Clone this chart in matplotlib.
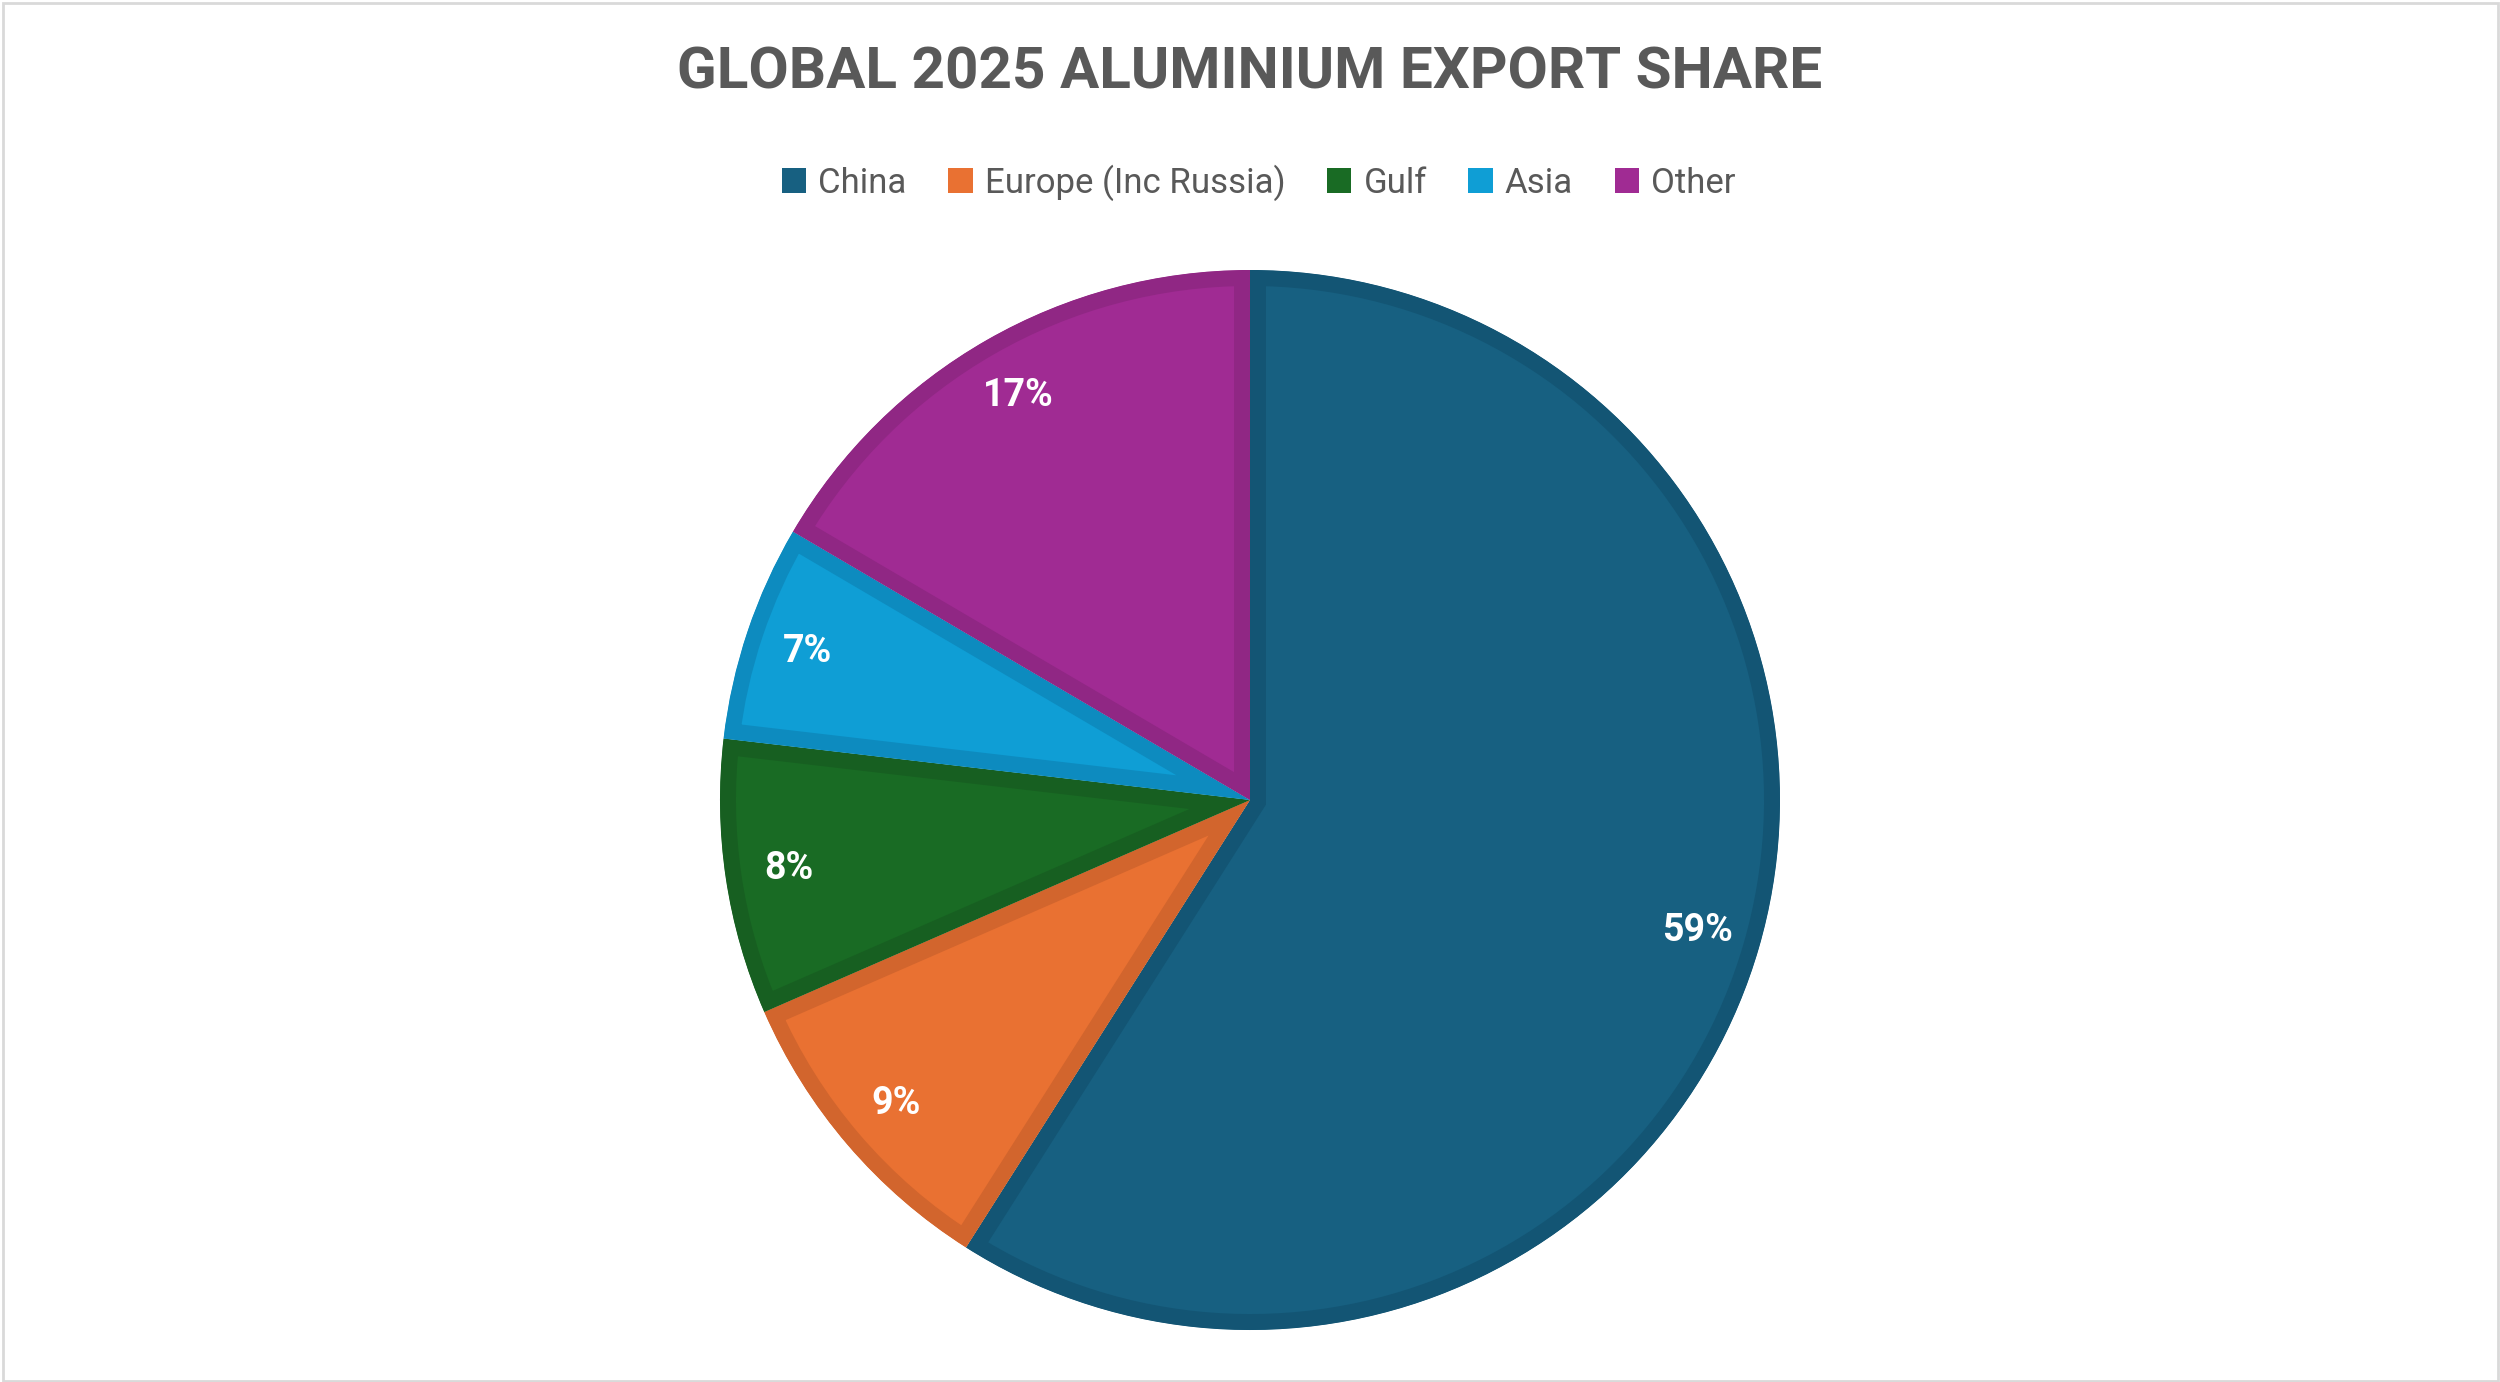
import matplotlib.pyplot as plt
from matplotlib.patches import Rectangle, Patch

# data
labels = ['China', 'Europe (Inc Russia)', 'Gulf', 'Asia', 'Other']
shares = [59.0, 9.45, 8.4, 6.6, 16.55]
pct_labels = ['59%', '9%', '8%', '7%', '17%']
fills = ['#176081', '#E97132', '#196B24', '#0F9ED5', '#A02B93']
edges = ['#135574', '#D2652D', '#175F21', '#0D8BBF', '#902784']

fig = plt.figure(figsize=(25, 13.82), dpi=100)
ax = fig.add_axes([0, 0, 1, 1])

wedges, texts = ax.pie(shares, colors=fills, startangle=90, counterclock=False,
                       center=(1250, 582), radius=530, labels=pct_labels,
                       labeldistance=0.88,
                       textprops=dict(color='white', fontsize=27, fontweight='bold',
                                      family='Roboto'))
# pie resets the limits, so set them afterwards (pixel units)
ax.set_xlim(0, 2500)
ax.set_ylim(0, 1382)
ax.set_aspect('equal')
ax.axis('off')

# inner border: stroke twice as wide, clipped to the wedge itself
for w, ec in zip(wedges, edges):
    w.set_edgecolor(ec)
    w.set_linewidth(23)
    w.set_joinstyle('miter')
    w.set_clip_on(True)
    w.set_clip_path(w)
for t in texts:
    t.set_ha('center')
    t.set_va('center')

fig.text(0.5, 0.947, 'GLOBAL 2025 ALUMINIUM EXPORT SHARE', ha='center', va='center',
         fontsize=42, fontweight='bold', color='#595959', family='Roboto')

handles = [Patch(facecolor=f, edgecolor='none') for f in fills]
fig.legend(handles, labels, loc='center', bbox_to_anchor=(0.5035, 0.868), ncol=5, frameon=False,
           prop=dict(family='Roboto', size=25), labelcolor='#595959',
           handlelength=0.7, handleheight=0.7, handletextpad=0.35, columnspacing=1.2)

fig.patches.append(Rectangle((0.001, 0.001), 0.998, 0.997, transform=fig.transFigure,
                             fill=False, edgecolor='#D9D9D9', linewidth=2))

fig.savefig('out.png', dpi=100, facecolor='white')
